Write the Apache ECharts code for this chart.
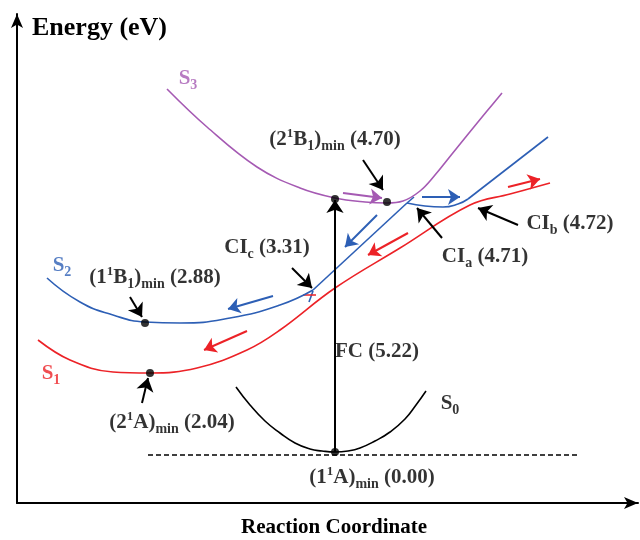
<!DOCTYPE html>
<html>
<head>
<meta charset="utf-8">
<script src="https://cdn.jsdelivr.net/npm/echarts@6/dist/echarts.min.js"></script>
<style>html,body{margin:0;padding:0;background:#fff}#c{width:640px;height:540px}</style>
</head>
<body>
<div id="c"></div>
<script>
// Schematic coordinates: x = reaction coordinate, y = energy (arbitrary schematic units)
var s0Curve = [[219,116],[233,98],[248,82],[263,70],[278,60],[293,54],[305,52],[318,51],[331,52],[343,55],[358,62],[373,71],[388,84],[399,98],[409,112]];
var s1Curve = [[21,163],[53,143],[96,131],[133,130],[180,135],[230,153],[263,173],[318,215],[383,255],[453,298],[493,309],[533,320]];
var s2Left  = [[30,225],[63,201],[96,188],[128,181],[163,180],[213,185],[263,198],[296,213]];
var s2Mid   = [[296,213],[390,300]];
var s2Flat  = [[390,300],[408,297],[426,296],[441,299],[451,304]];
var s2Right = [[451,304],[531,366]];
var s3Curve = [[150,414],[190,376],[240,336],[283,315],[318,305],[348,301],[370,300],[386,302],[403,312],[418,328],[435,349],[452,370],[470,392],[485,410]];
var groundLine = [[131,48],[560,48]];
var stubsBlue = [[[390,300],[397,306]],[[296,212],[292,201]]];
var stubsRed  = [[[286,208],[299,208]]];
var minima = [[318,304],[370,301],[128,180],[133,130],[318,51]];
// colored path arrows [from, to]
var purpleArrows = [[[326,310],[365,305]]];
var blueArrows = [[[360,288],[328,256]],[[405,306],[443,306]],[[256,207],[211,194]]];
var redArrows = [[[491,316],[523,324]],[[391,270],[351,248]],[[230,172],[187,153]]];
// black annotation arrows
var pointerArrows = [[[346,343],[366,313]],[[425,265],[400,295]],[[501,278],[461,295]],[[275,235],[295,215]],[[113,206],[125,186]],[[125,100],[131,125]]];
var fcArrow = [[[318,51],[318,303]]];
// labels
var labelTexts = [
  '{a|S}{s|3}',
  '{a|(2}{p|1}{a|B}{s|1}{a|)}{s|min}{a| (4.70)}',
  '{a|CI}{s|c}{a| (3.31)}',
  '{a|S}{s|2}',
  '{a|(1}{p|1}{a|B}{s|1}{a|)}{s|min}{a| (2.88)}',
  '{a|S}{s|1}',
  '{a|(2}{p|1}{a|A)}{s|min}{a| (2.04)}',
  '{a|S}{s|0}',
  '{a|(1}{p|1}{a|A)}{s|min}{a| (0.00)}',
  '{a|FC (5.22)}',
  '{a|CI}{s|a}{a| (4.71)}',
  '{a|CI}{s|b}{a| (4.72)}'
];
var labelPos = [[171,424],[318,363],[250,255],[45,237],[138,225],[34,129],[155,80],[433,99],[355,25],[360,151],[468,246],[553,279]];
var labelColors = ['#a55ab3','#000','#000','#2d5fb5','#000','#ec2227','#000','#000','#000','#000','#000','#000'];

var PURPLE='#a55ab3', BLUE='#2d5fb5', RED='#ec2227';
var FONT='"Liberation Serif","Times New Roman",serif';

function curve(data, color, smooth){
  return {type:'line', data:data, smooth:smooth, showSymbol:false, symbol:'none', silent:true,
    lineStyle:{color:color, width:1.6}, z:2};
}
function arrows(list, color, width, size){
  return {type:'lines', coordinateSystem:'cartesian2d', silent:true,
    symbol:['none','arrow'], symbolSize:size,
    lineStyle:{color:color, width:width, opacity:1},
    data:list.map(function(c){return {coords:c};}), z:4};
}
function segs(list, color){
  return {type:'lines', coordinateSystem:'cartesian2d', silent:true, symbol:['none','none'],
    lineStyle:{color:color, width:1.6, opacity:1},
    data:list.map(function(c){return {coords:c};}), z:2};
}

var labelData = labelTexts.map(function(t,i){
  return {value:labelPos[i], label:{formatter:t, color:labelColors[i]}};
});

var chart = echarts.init(document.getElementById('c'));
chart.setOption({
  animation:false,
  backgroundColor:'#fff',
  grid:{left:17, right:2, top:14, bottom:37, outerBoundsMode:'none', containLabel:false},
  xAxis:{type:'value', min:0, max:621,
    name:'Reaction Coordinate', nameLocation:'middle', nameGap:14,
    nameTextStyle:{fontFamily:FONT, fontWeight:'bold', fontSize:21, color:'#000', padding:[0,0,0,13]},
    axisLine:{show:true, onZero:false, symbol:['none','arrow'], symbolSize:[9,14], lineStyle:{color:'#000', width:2}},
    axisTick:{show:false}, axisLabel:{show:false}, splitLine:{show:false}},
  yAxis:{type:'value', min:0, max:489,
    name:'Energy (eV)', nameLocation:'end', nameGap:-14,
    nameTextStyle:{fontFamily:FONT, fontWeight:'bold', fontSize:26, color:'#000', align:'left', verticalAlign:'middle', padding:[0,0,0,15]},
    axisLine:{show:true, onZero:false, symbol:['none','arrow'], symbolSize:[9,14], lineStyle:{color:'#000', width:2}},
    axisTick:{show:false}, axisLabel:{show:false}, splitLine:{show:false}},
  series:[
    curve(s0Curve,'#000',true),
    curve(s1Curve,RED,0.4),
    curve(s2Left,BLUE,true),
    curve(s2Mid,BLUE,false),
    curve(s2Flat,BLUE,true),
    curve(s2Right,BLUE,false),
    curve(s3Curve,PURPLE,0.4),
    {type:'line', data:groundLine, showSymbol:false, symbol:'none', silent:true,
      lineStyle:{color:'#000', width:1.5, type:[5,3]}},
    segs(stubsBlue, BLUE),
    segs(stubsRed, RED),
    arrows(purpleArrows, PURPLE, 2, [7,12]),
    arrows(blueArrows, BLUE, 2, [7,12]),
    arrows(redArrows, RED, 2, [7,12]),
    arrows(pointerArrows, '#000', 2, [9,13]),
    arrows(fcArrow, '#000', 2, [9,13]),
    {type:'scatter', data:minima, symbolSize:8, itemStyle:{color:'#000'}, silent:true, z:5},
    {type:'scatter', data:labelData, symbolSize:0, silent:true, z:6,
      label:{show:true, position:'inside',
        rich:{
          a:{fontFamily:FONT, fontWeight:'bold', fontSize:21, lineHeight:26, verticalAlign:'middle'},
          s:{fontFamily:FONT, fontWeight:'bold', fontSize:14, lineHeight:26, verticalAlign:'bottom'},
          p:{fontFamily:FONT, fontWeight:'bold', fontSize:13, lineHeight:26, verticalAlign:'top'}
        }}}
  ]
});
</script>
</body>
</html>
